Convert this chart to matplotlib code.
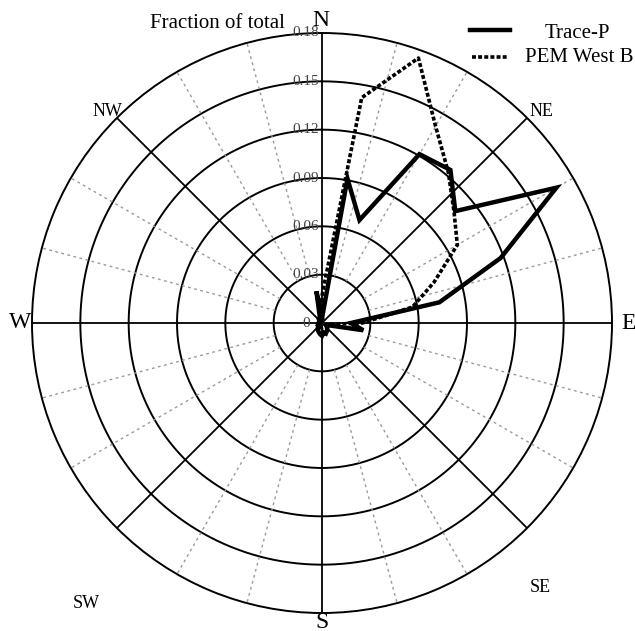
import numpy as np
import matplotlib.pyplot as plt
from matplotlib.lines import Line2D

plt.rcParams['font.family'] = ['Liberation Serif', 'DejaVu Serif']

# wind direction bins (degrees from north, clockwise)
bearings = list(range(0, 360, 10))

# fraction of total per direction bin
trace_p = [0.003, 0.091, 0.068, 0.121, 0.124, 0.108, 0.168, 0.118, 0.074,
           0.018, 0.026, 0.004, 0.003, 0.004, 0.005, 0.006, 0.007, 0.006,
           0.008, 0.007, 0.006, 0.005, 0.004, 0.003, 0.003, 0.002, 0.002,
           0.002, 0.002, 0.002, 0.002, 0.002, 0.003, 0.003, 0.004, 0.020]
pem_west_b = [0.017, 0.142, 0.175, 0.141, 0.122, 0.107, 0.097, 0.074, 0.057,
              0.025, 0.005, 0.003, 0.003, 0.003, 0.003, 0.003, 0.003, 0.003,
              0.003, 0.003, 0.003, 0.003, 0.003, 0.002, 0.002, 0.002, 0.002,
              0.002, 0.002, 0.002, 0.002, 0.002, 0.002, 0.003, 0.003, 0.004]

ring_values = [0.03, 0.06, 0.09, 0.12, 0.15, 0.18]
ring_labels = ["0.03", "0.06", "0.09", "0.12", "0.15", "0.18"]
compass = ["N", "NE", "E", "SE", "S", "SW", "W", "NW"]

W, H = 635, 631
fig = plt.figure(figsize=(W / 100, H / 100), dpi=100)

# axes centred at pixel (322, 323) with radius ~290 px
cx, cy, rad = 322, 323, 290
ax = fig.add_axes([(cx - rad) / W, 1 - (cy + rad) / H, 2 * rad / W, 2 * rad / H],
                  projection='polar')
ax.set_theta_zero_location('N')
ax.set_theta_direction(-1)
ax.set_ylim(0, 0.18)
ax.grid(False)
ax.set_xticks([])
ax.set_yticks([])
ax.spines['polar'].set_linewidth(1.4)
ax.spines['polar'].set_color('black')

# grid: rings, solid compass rays, grey dotted rays every 15 deg
full = np.linspace(0, 2 * np.pi, 400)
for r in ring_values[:-1]:
    ax.plot(full, np.full_like(full, r), color='black', lw=1.4, zorder=1)
for deg in range(0, 360, 15):
    th = np.deg2rad(deg)
    if deg % 45 == 0:
        ax.plot([th, th], [0, 0.18], color='black', lw=1.3, zorder=1)
    else:
        ax.plot([th, th], [0.03, 0.18], color='#9a9a9a', lw=1.0,
                dashes=(2, 2.5), zorder=1)

# data, closed polygons
theta = np.deg2rad(bearings + [bearings[0]])
ax.plot(theta, trace_p + [trace_p[0]], color='black', lw=3.2,
        solid_joinstyle='miter', zorder=3)
ax.plot(theta, pem_west_b + [pem_west_b[0]], color='black', lw=2.6,
        dashes=(1.1, 0.6), zorder=3)
ax.set_ylim(0, 0.18)

# radial labels along the N axis
for r, lab in zip([0] + ring_values, ["0"] + ring_labels):
    ax.annotate(lab, xy=(0, r), xytext=(-16, 0), textcoords='offset pixels',
                ha='center', va='center', fontsize=11, color='#444444',
                zorder=4)


def px(x, y):
    return x / W, 1 - y / H


label_pos = {"N": (321, 21), "NE": (541, 112), "E": (629, 324),
             "SE": (540, 588), "S": (322, 622), "SW": (86, 603),
             "W": (20, 323), "NW": (107, 111)}
for name in compass:
    size = 17 if len(name) == 1 else 13
    fig.text(*px(*label_pos[name]), name, ha='center', va='center',
             fontsize=size)

fig.text(*px(217, 23), "Fraction of total", ha='center', va='center',
         fontsize=15)

# legend
fig.add_artist(Line2D([470 / W, 510 / W], [1 - 30 / H, 1 - 30 / H],
                      color='black', lw=3.2))
fig.add_artist(Line2D([472 / W, 507 / W], [1 - 57 / H, 1 - 57 / H],
                      color='black', lw=2.6, dashes=(1.1, 0.6)))
fig.text(*px(577, 33), "Trace-P", ha='center', va='center', fontsize=15)
fig.text(*px(579, 57), "PEM West B", ha='center', va='center', fontsize=15)

fig.savefig("out.png", dpi=100)
